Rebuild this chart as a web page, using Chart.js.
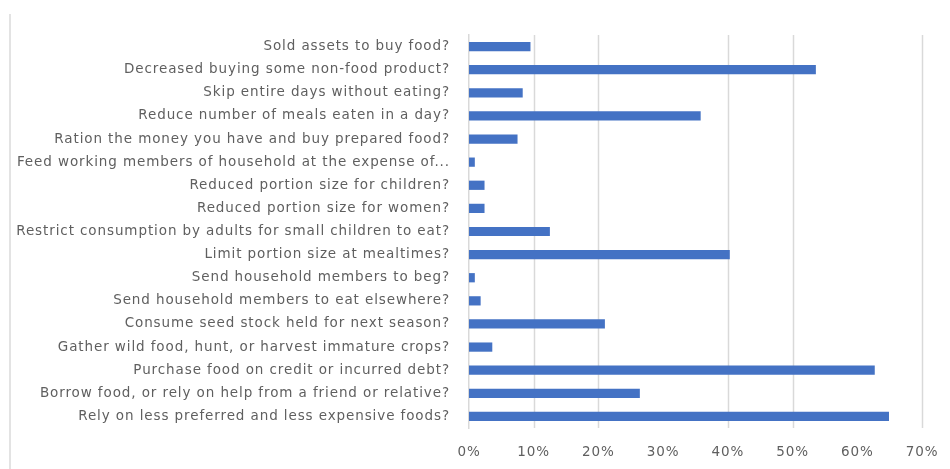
<!DOCTYPE html>
<html>
<head>
<meta charset="utf-8">
<script src="https://cdn.jsdelivr.net/npm/chart.js@4"></script>
<style>
  html, body { margin: 0; padding: 0; background: #fff; }
  #wrap { position: relative; width: 950px; height: 469px; }
  #frame { position: absolute; left: 9px; top: 14px; width: 2px; height: 455px; background: #e3e3e3; }
</style>
</head>
<body>
<div id="wrap">
  <div id="frame"></div>
  <canvas id="copingChart" width="950" height="469"></canvas>
</div>
<script>
// ---- Coping strategy questions (top to bottom) ----
const strategies = [
  'Sold assets to buy food?',
  'Decreased buying some non-food product?',
  'Skip entire days without eating?',
  'Reduce number of meals eaten in a day?',
  'Ration the money you have and buy prepared food?',
  'Feed working members of household at the expense of...',
  'Reduced portion size for children?',
  'Reduced portion size for women?',
  'Restrict consumption by adults for small children to eat?',
  'Limit portion size at mealtimes?',
  'Send household members to beg?',
  'Send household members to eat elsewhere?',
  'Consume seed stock held for next season?',
  'Gather wild food, hunt, or harvest immature crops?',
  'Purchase food on credit or incurred debt?',
  'Borrow food, or rely on help from a friend or relative?',
  'Rely on less preferred and less expensive foods?'
];

// ---- Share of households (fraction) ----
const shares = [
  0.095, 0.536, 0.083, 0.358, 0.075, 0.009, 0.024, 0.024, 0.125,
  0.403, 0.009, 0.018, 0.210, 0.036, 0.627, 0.264, 0.649
];

// ---- Axis ticks ----
const xTicks = [0, 0.1, 0.2, 0.3, 0.4, 0.5, 0.6, 0.7];
const gridValues = [0.1, 0.2, 0.4, 0.5, 0.7];   // vertical lines actually drawn

const labelColor = '#5f5f5f';
const labelFont = { family: 'DejaVu Sans', size: 13.5 };

// slightly spaced-out lettering for all axis text
const spacing = {
  id: 'spacing',
  beforeLayout(chart) { chart.ctx.letterSpacing = '0.9px'; },
  beforeDraw(chart) { chart.ctx.letterSpacing = '0.9px'; }
};

// vertical gridlines behind the bars
const valueGrid = {
  id: 'valueGrid',
  beforeDatasetsDraw(chart) {
    const { ctx, chartArea } = chart;
    const x = chart.scales.x;
    ctx.save();
    ctx.strokeStyle = '#d9d9d9';
    ctx.lineWidth = 1.5;
    gridValues.forEach(v => {
      const px = Math.round(x.getPixelForValue(v)) + 0.5;
      ctx.beginPath();
      ctx.moveTo(px, chartArea.top);
      ctx.lineTo(px, chartArea.bottom);
      ctx.stroke();
    });
    ctx.restore();
  }
};

new Chart(document.getElementById('copingChart'), {
  type: 'bar',
  data: {
    labels: strategies,
    datasets: [{
      data: shares,
      backgroundColor: '#4472c4',
      borderWidth: 0,
      barPercentage: 0.4,
      categoryPercentage: 1
    }]
  },
  options: {
    indexAxis: 'y',
    responsive: false,
    animation: false,
    layout: { padding: { top: 35, right: 28, bottom: 0, left: 0 } },
    plugins: { legend: { display: false }, tooltip: { enabled: false } },
    scales: {
      x: {
        min: 0,
        max: 0.7,
        afterBuildTicks: s => { s.ticks = xTicks.map(v => ({ value: v })); },
        afterFit: s => { s.height = 41; s.paddingLeft = 0; s.paddingRight = 0; },
        grid: { display: false, drawTicks: false },
        border: { display: false },
        ticks: {
          padding: 16,
          color: labelColor,
          font: labelFont,
          callback: v => Math.round(v * 100) + '%'
        }
      },
      y: {
        afterFit: s => { s.width = 469; },
        grid: { display: false, drawTicks: false },
        border: { display: true, color: '#d9d9d9', width: 1.5 },
        ticks: {
          padding: 19,
          color: labelColor,
          font: labelFont,
          autoSkip: false
        }
      }
    }
  },
  plugins: [spacing, valueGrid]
});
</script>
</body>
</html>
